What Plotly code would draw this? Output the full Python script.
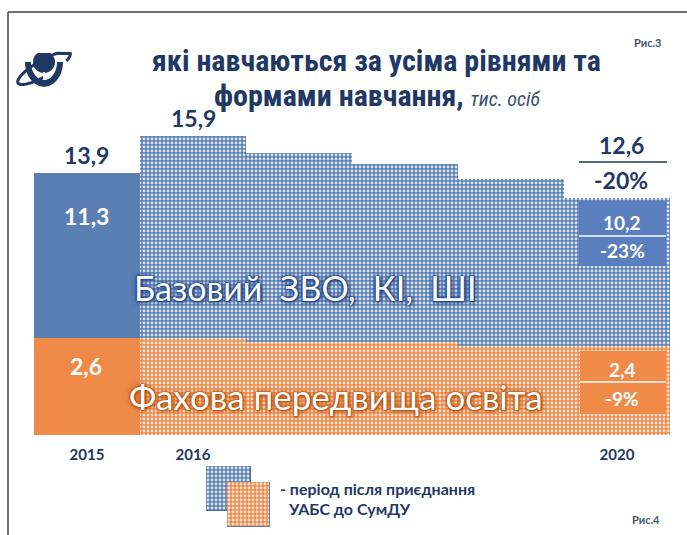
import numpy as np
import plotly.graph_objects as go

W, H = 687, 535

# ---------------- data ----------------
years = ['2015', '2016', '2017', '2018', '2019', '2020']
total = [13.9, 15.9, 15.0, 14.4, 13.6, 12.6]          # усього, тис. осіб
fakhova = [2.6, 2.6, 2.5, 2.5, 2.4, 2.4]             # фахова передвища освіта
bazovyi = [11.3, 13.3, 12.5, 11.9, 11.2, 10.2]        # базовий ЗВО, КІ, ШІ
tick_years = ['2015', '2016', '2020']
change_total = '-20%'
change_bazovyi = '-23%'
change_fakhova = '-9%'
pattern_shapes = ['', '.', '.', '.', '.', '.']       # 2015 solid, 2016+ patterned

NAVY = '#1F3864'
BLUE = '#5A7FB3'
ORANGE = '#EF8A48'
NUM = 'Lato, "Open Sans", sans-serif'
TITLE = '"Liberation Sans Narrow", "Arial Narrow", "Roboto Condensed", "DejaVu Sans Condensed", sans-serif'


def px(x):
    return x / W


def py(y):
    return 1 - y / H


def fmt(v):
    return f'{v:.1f}'.replace('.', ',')


# plot geometry (pixels)
X0, X1 = 34, 670
Y_BASE, Y_TOP = 435, 125
PX_PER_UNIT = 18.83
PX_PER_UNIT_F = 37.2
y_range = (Y_BASE - Y_TOP) / PX_PER_UNIT
y2_range = (Y_BASE - Y_TOP) / PX_PER_UNIT_F


def pat(shape, bg):
    return dict(shape=shape, fgcolor='#FFFFFF', bgcolor=bg, fgopacity=0.78, size=4,
                solidity=0.4, fillmode='replace')


fig = go.Figure()

fig.add_trace(go.Bar(
    x=years, y=total, marker=dict(color=BLUE, line=dict(width=0),
                                  pattern=pat(pattern_shapes, BLUE)),
    xaxis='x', yaxis='y', showlegend=False, hoverinfo='skip'))

fig.add_trace(go.Bar(
    x=years, y=fakhova, marker=dict(color=ORANGE, line=dict(width=0),
                                    pattern=pat(pattern_shapes, ORANGE)),
    xaxis='x', yaxis='y2', showlegend=False, hoverinfo='skip'))

# legend swatches
fig.add_trace(go.Bar(x=[0], y=[1], marker=dict(
    color=BLUE, line=dict(width=1, color='#4A6FA5'), pattern=pat('.', BLUE)),
    xaxis='x3', yaxis='y3', showlegend=False, hoverinfo='skip', width=1))
fig.add_trace(go.Bar(x=[0], y=[1], marker=dict(
    color=ORANGE, line=dict(width=1, color='#5A7FB0'), pattern=pat('.', ORANGE)),
    xaxis='x4', yaxis='y4', showlegend=False, hoverinfo='skip', width=1))

hidden = dict(visible=False, fixedrange=True)
fig.update_layout(
    width=W, height=H, margin=dict(l=0, r=0, t=0, b=0),
    paper_bgcolor='white', plot_bgcolor='rgba(0,0,0,0)',
    barmode='overlay', bargap=0,
    xaxis=dict(domain=[px(X0), px(X1)], type='category', categoryorder='array',
               categoryarray=years, range=[-0.5, 5.5],
               tickvals=tick_years, ticktext=tick_years, showgrid=False,
               showline=False, zeroline=False, ticks='', ticklabelstandoff=9,
               tickfont=dict(family=NUM, size=15, color=NAVY, weight='bold')),
    yaxis=dict(domain=[py(Y_BASE), py(Y_TOP)], range=[0, y_range], **hidden),
    yaxis2=dict(range=[0, y2_range], overlaying='y', anchor='x', **hidden),
    xaxis3=dict(domain=[px(206), px(251)], range=[-0.5, 0.5], anchor='y3', **hidden),
    yaxis3=dict(domain=[py(511), py(466)], range=[0, 1], anchor='x3', **hidden),
    xaxis4=dict(domain=[px(227), px(270)], range=[-0.5, 0.5], anchor='y4', **hidden),
    yaxis4=dict(domain=[py(527), py(482)], range=[0, 1], anchor='x4', **hidden),
)

ann = []


def A(text, x, y, size, color=NAVY, family=NUM, weight='bold', xanchor='center', **kw):
    ann.append(dict(text=text, x=px(x), y=py(y), xref='paper', yref='paper',
                    xanchor=xanchor, yanchor='middle', showarrow=False,
                    font=dict(family=family, size=size, color=color, weight=weight, **kw)))


# title
A('які навчаються за усіма рівнями та', 376, 60, 30, family=TITLE)
A('формами навчання, <span style="font-weight:normal;font-style:italic;font-size:20px;color:#3B4F6F">тис. осіб</span>',
  377, 96, 30, family=TITLE)
A('Рис.3', 647, 43, 11, color='#44546A', family=NUM)
A('Рис.4', 646, 519, 11, color='#44546A', family=NUM)

# value labels
A(fmt(total[0]), 86, 155, 23)
A(fmt(total[1]), 193, 118, 23)
A(fmt(total[5]), 621, 145, 23)
A(change_total, 621, 180, 23)
A(fmt(bazovyi[0]), 86, 216, 23, color='white')
A(fmt(fakhova[0]), 86, 366, 23, color='white')
A(fmt(bazovyi[5]), 622, 222, 19, color='white')
A(change_bazovyi, 622, 250, 19, color='white')
A(fmt(fakhova[5]), 622, 369, 19, color='white')
A(change_fakhova, 622, 398, 19, color='white')

# series labels
A('Базовий  ЗВО,  КІ,  ШІ', 305, 287, 34, color='white', weight='normal',
  shadow='0px 0px 1px #1F3F80, 0px 0px 1px #1F3F80, 0px 0px 2px #1F3F80, 0px 0px 4px #1F4E9A, 0px 0px 6px #2F5597, 1px 1px 3px #1F3864')
A('Фахова передвища освіта', 336, 396, 35, color='white', weight='normal',
  shadow='0px 0px 1px #A84A0A, 0px 0px 1px #A84A0A, 0px 0px 2px #B4520E, 0px 0px 4px #C55A11, 0px 0px 6px #D0651C, 1px 1px 3px #A0460A')

# legend text
A('- період після приєднання', 278, 488.5, 16, xanchor='left')
A('УАБС до СумДУ', 286, 508, 16, xanchor='left')

fig.update_layout(annotations=ann)

shapes = []


def rect(x0, y0, x1, y1, color):
    shapes.append(dict(type='rect', xref='paper', yref='paper', x0=px(x0), x1=px(x1),
                       y0=py(y1), y1=py(y0), fillcolor=color, line=dict(width=0), layer='above'))


def line(x0, y0, x1, y1, color, w):
    shapes.append(dict(type='line', xref='paper', yref='paper', x0=px(x0), x1=px(x1),
                       y0=py(y0), y1=py(y1), line=dict(color=color, width=w)))


# frame
line(8, 12, W, 12, '#3F3F3F', 1.5)
line(8, 12, 8, H, '#3F3F3F', 1.5)

# 2020 boxes
line(579, 162, 667, 162, NAVY, 1.5)
rect(579, 201, 666, 266, '#5B7FBE')
line(579, 236, 666, 236, 'white', 1.5)
rect(580, 351, 666, 414, ORANGE)
line(580, 382, 666, 382, 'white', 1.5)


# logo (simple globe + orbit)
def poly(points, closed=False, **kw):
    d = 'M ' + ' L '.join(f'{px(a):.5f},{py(b):.5f}' for a, b in points)
    if closed:
        d += ' Z'
    shapes.append(dict(type='path', xref='paper', yref='paper', path=d, **kw))


cx, cy = 44, 62
t = np.linspace(np.radians(0), np.radians(180), 40)
outer = [(cx + 19 * np.cos(a), cy + 26 * np.sin(a) * 0.95) for a in t]
inner = [(cx + 13 * np.cos(a), cy + 19 * np.sin(a) * 0.95) for a in t[::-1]]
pts = [(p[0], max(p[1], 53)) for p in outer + inner]
poly(pts, closed=True, fillcolor=NAVY, line=dict(width=0))
tg = np.linspace(0, 2 * np.pi, 40)
globe = [(cx + 11 * np.cos(a), 62 + 11 * np.sin(a)) for a in tg]
globe = [(a, max(b, 53)) for a, b in globe]
poly(globe, closed=True, fillcolor=NAVY, line=dict(width=0))
orbit = []
ang = np.radians(-30)
for a in np.linspace(np.radians(100), np.radians(400), 60):
    ex, ey = 30 * np.cos(a), 8 * np.sin(a)
    orbit.append((cx + ex * np.cos(ang) - ey * np.sin(ang), 68 + ex * np.sin(ang) + ey * np.cos(ang)))
orbit = [(a, b) for a, b in orbit if b > 53]
poly(orbit, line=dict(color=NAVY, width=3))
line(44, 72, 44, 80, 'white', 1.5)

fig.update_layout(shapes=shapes)

fig.write_html('out.html', config={'displayModeBar': False},
               post_script="document.body.style.margin='0';")
